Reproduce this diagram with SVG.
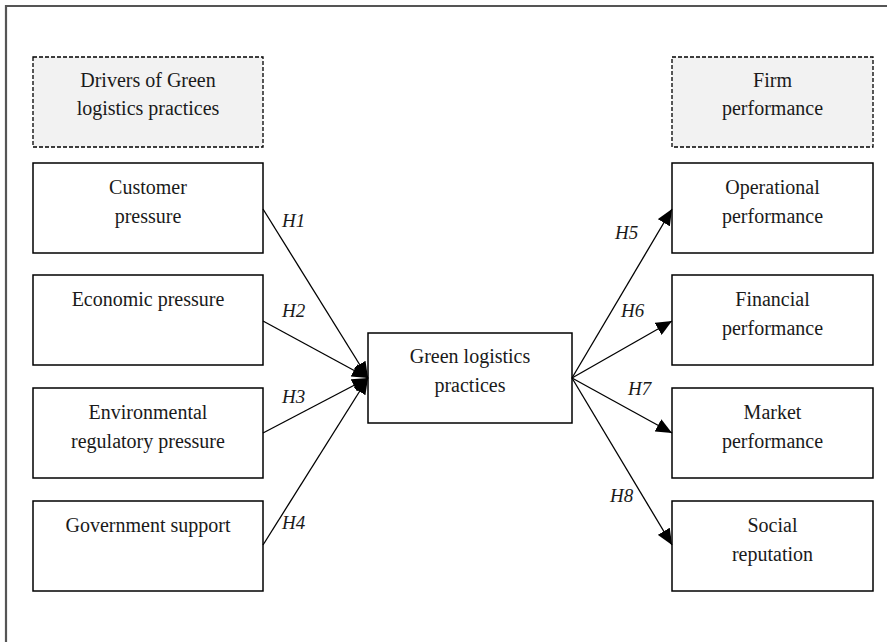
<svg xmlns="http://www.w3.org/2000/svg" width="887" height="642" viewBox="0 0 887 642">
<style>
.box{fill:#ffffff;stroke:#000;stroke-width:1.5}
.hdr{fill:#f2f2f2;stroke:#000;stroke-width:1.3;stroke-dasharray:4,2}
.t{font-family:"Liberation Serif","Times New Roman",serif;font-size:20px;fill:#1a1a1a;text-anchor:middle}
.h{font-family:"Liberation Serif","Times New Roman",serif;font-size:19px;font-style:italic;fill:#1a1a1a}
.c{stroke:#000;stroke-width:1.3;fill:none;marker-end:url(#ah)}
</style>
<defs>
<marker id="ah" markerUnits="userSpaceOnUse" markerWidth="16" markerHeight="14" refX="16" refY="7" orient="auto">
<path d="M0,0 L16,7 L0,14 z" fill="#000"/>
</marker>
</defs>
<rect width="887" height="642" fill="#fff"/>
<path d="M887 6 H6 V642" fill="none" stroke="#555" stroke-width="2.2"/>
<g id="drivers-header"><rect class="hdr" x="33" y="57" width="230" height="90"/><text class="t" x="148" y="87">Drivers of Green</text><text class="t" x="148" y="115">logistics practices</text></g>
<g id="firm-header"><rect class="hdr" x="672" y="57" width="201" height="90"/><text class="t" x="772.5" y="87">Firm</text><text class="t" x="772.5" y="115">performance</text></g>
<g id="customer"><rect class="box" x="33" y="163" width="230" height="90"/><text class="t" x="148" y="194">Customer</text><text class="t" x="148" y="223">pressure</text></g>
<g id="economic"><rect class="box" x="33" y="275" width="230" height="90"/><text class="t" x="148" y="306">Economic pressure</text></g>
<g id="environmental"><rect class="box" x="33" y="388" width="230" height="90"/><text class="t" x="148" y="419">Environmental</text><text class="t" x="148" y="448">regulatory pressure</text></g>
<g id="government"><rect class="box" x="33" y="501" width="230" height="90"/><text class="t" x="148" y="532">Government support</text></g>
<g id="glp"><rect class="box" x="368" y="333" width="204" height="90"/><text class="t" x="470" y="363">Green logistics</text><text class="t" x="470" y="392">practices</text></g>
<g id="operational"><rect class="box" x="672" y="163" width="201" height="90"/><text class="t" x="772.5" y="194">Operational</text><text class="t" x="772.5" y="223">performance</text></g>
<g id="financial"><rect class="box" x="672" y="275" width="201" height="90"/><text class="t" x="772.5" y="306">Financial</text><text class="t" x="772.5" y="335">performance</text></g>
<g id="market"><rect class="box" x="672" y="388" width="201" height="90"/><text class="t" x="772.5" y="419">Market</text><text class="t" x="772.5" y="448">performance</text></g>
<g id="social"><rect class="box" x="672" y="501" width="201" height="90"/><text class="t" x="772.5" y="532">Social</text><text class="t" x="772.5" y="561">reputation</text></g>
<g id="connectors">
<line class="c" x1="263" y1="209" x2="368" y2="378"/>
<line class="c" x1="263" y1="321" x2="368" y2="378"/>
<line class="c" x1="263" y1="433" x2="368" y2="378"/>
<line class="c" x1="263" y1="545" x2="368" y2="378"/>
<line class="c" x1="572" y1="378" x2="672" y2="209"/>
<line class="c" x1="572" y1="378" x2="672" y2="321"/>
<line class="c" x1="572" y1="378" x2="672" y2="433"/>
<line class="c" x1="572" y1="378" x2="672" y2="545"/>
<text class="h" x="282" y="227">H1</text>
<text class="h" x="282" y="317">H2</text>
<text class="h" x="282" y="403">H3</text>
<text class="h" x="282" y="529">H4</text>
<text class="h" x="615" y="239">H5</text>
<text class="h" x="621" y="317">H6</text>
<text class="h" x="628" y="395">H7</text>
<text class="h" x="610" y="502">H8</text>
</g>
</svg>
